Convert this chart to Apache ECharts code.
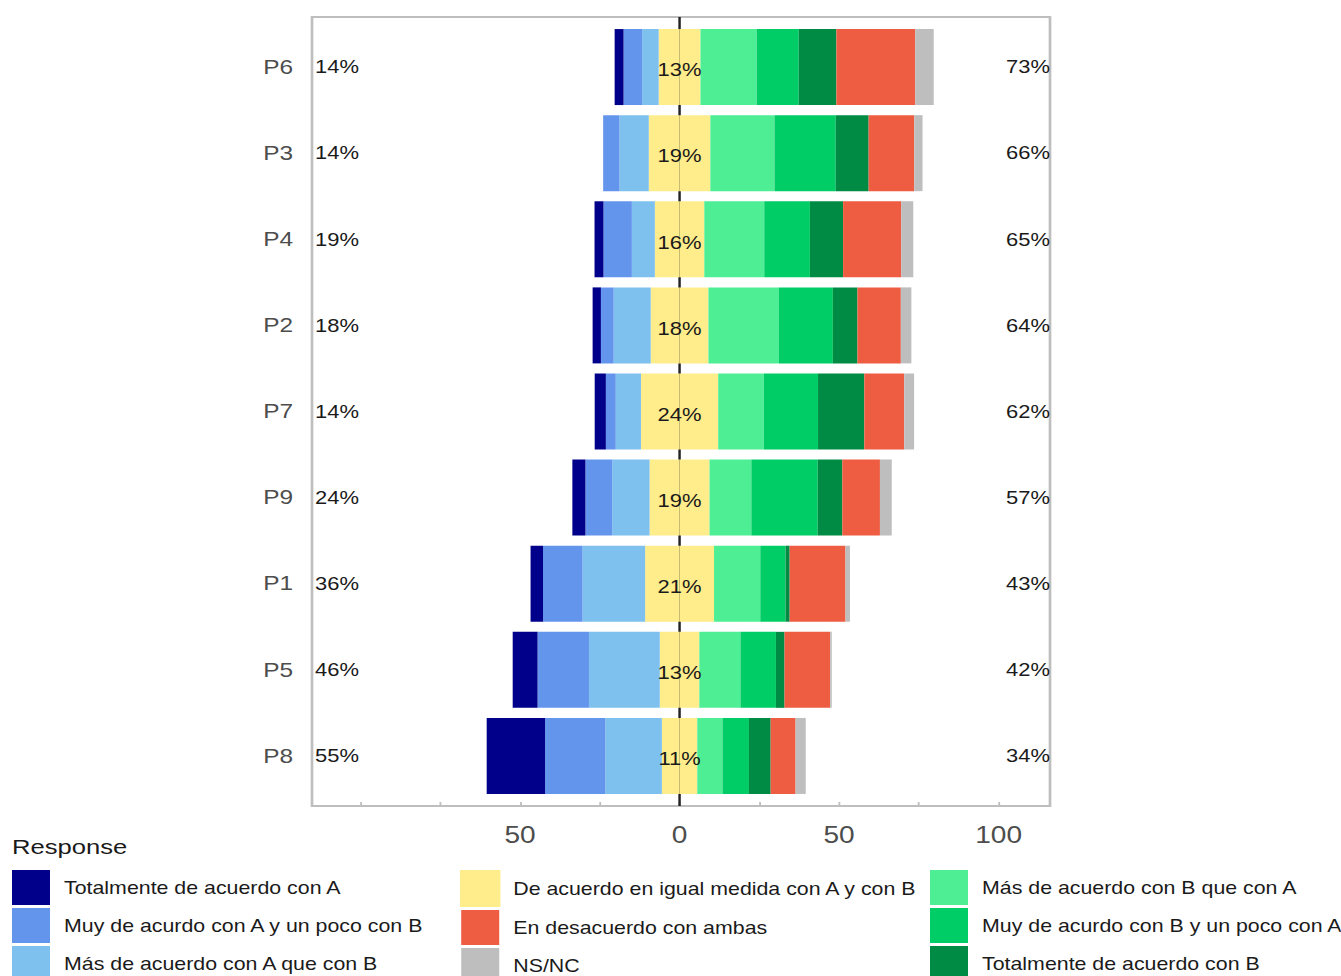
<!DOCTYPE html>
<html>
<head>
<meta charset="utf-8">
<script src="https://cdn.jsdelivr.net/npm/echarts@6/dist/echarts.min.js"></script>
<style>
html,body{margin:0;padding:0;background:#fff;overflow:hidden;width:1341px;height:976px;}
#chart{height:976px;transform-origin:0 0;}
</style>
</head>
<body>
<div id="chart"></div>
<script>
// ---- data (percent of respondents) ----
const categories = ['P6','P3','P4','P2','P7','P9','P1','P5','P8'];
const totA  = [2.8, 0.0, 2.8, 2.6, 3.5, 4.1, 3.9, 7.8, 18.3];
const muyA  = [5.8, 5.1, 8.9, 4.0, 3.1, 8.4, 12.4, 16.1, 18.9];
const masA  = [5.2, 9.2, 7.2, 11.6, 7.9, 11.7, 19.6, 22.2, 17.7];
const igual = [13.1, 19.3, 15.5, 18.1, 24.2, 18.8, 21.6, 12.4, 11.1];
const masB  = [17.6, 20.1, 18.8, 22.1, 14.3, 13.1, 14.5, 12.9, 7.9];
const muyB  = [13.2, 19.2, 14.3, 16.9, 17.0, 20.8, 7.9, 11.1, 8.3];
const totB  = [11.8, 10.3, 10.4, 7.7, 14.5, 7.7, 1.3, 2.7, 6.8];
const desac = [24.7, 14.3, 18.2, 13.6, 12.5, 11.8, 17.5, 14.3, 7.8];
const nsnc  = [5.8, 2.6, 3.8, 3.3, 3.1, 3.7, 1.4, 0.5, 3.2];
const leftPct   = ['14%','14%','19%','18%','14%','24%','36%','46%','55%'];
const centerPct = ['13%','19%','16%','18%','24%','19%','21%','13%','11%'];
const rightPct  = ['73%','66%','65%','64%','62%','57%','43%','42%','34%'];
const xLabelValues = [-50, 0, 50, 100];
const xTickValues = [-100, -75, -50, -25, 0, 25, 50, 75, 100];

const names = {
  totA: 'Totalmente de acuerdo con A',
  muyA: 'Muy de acurdo con A y un poco con B',
  masA: 'Más de acuerdo con A que con B',
  igual: 'De acuerdo en igual medida con A y con B',
  desac: 'En desacuerdo con ambas',
  nsnc: 'NS/NC',
  masB: 'Más de acuerdo con B que con A',
  muyB: 'Muy de acurdo con B y un poco con A',
  totB: 'Totalmente de acuerdo con B'
};
const colors = {
  totA: '#00008B', muyA: '#6495ED', masA: '#7EC0EE', igual: '#FFEC8B',
  masB: '#4EEE94', muyB: '#00CD66', totB: '#008B45', desac: '#EE5C42', nsnc: '#BEBEBE'
};

// The reference picture is horizontally stretched; render narrower and stretch the page.
const S = 1.22;
const W = 1341 / S;
const X = px => px / S;
const el = document.getElementById('chart');
el.style.width = W + 'px';
el.style.transform = 'scaleX(' + S + ')';

const FONT = 'Liberation Sans, Arial, sans-serif';

function barSeries(key, values, sign, extra) {
  return Object.assign({
    type: 'bar', name: names[key], stack: 'likert', barWidth: 76, z: 10,
    itemStyle: { color: colors[key] },
    data: values.map(v => sign * v),
    emphasis: { disabled: true }
  }, extra || {});
}

// both yellow halves get a same-colour outline so no seam shows at zero
const yellowStyle = { color: colors.igual, borderColor: colors.igual, borderWidth: 3 };

const series = [
  // zero reference line (drawn beneath the bars, visible in the gaps)
  { type: 'custom', name: '_zero', z: 1, silent: true, clip: false,
    data: [[0, 0]],
    renderItem: (params, api) => {
      const cs = params.coordSys;
      const x = api.coord([0, 0])[0];
      return { type: 'line',
        shape: { x1: x, y1: cs.y - 7, x2: x, y2: cs.y + cs.height + 7 },
        style: { stroke: '#222', lineWidth: 2 } };
    } },
  barSeries('igual', igual.map(v => v / 2), -1, { itemStyle: yellowStyle }),
  barSeries('igual', igual.map(v => v / 2), 1, {
    itemStyle: yellowStyle,
    label: { show: true, position: [0, '50%'], align: 'center', verticalAlign: 'middle',
      offset: [0, 3], fontSize: 18, color: '#1a1a1a', fontFamily: FONT,
      formatter: p => centerPct[p.dataIndex] }
  }),
  barSeries('masA', masA, -1),
  barSeries('muyA', muyA, -1),
  barSeries('totA', totA, -1),
  barSeries('masB', masB, 1),
  barSeries('muyB', muyB, 1),
  barSeries('totB', totB, 1),
  barSeries('desac', desac, 1),
  barSeries('nsnc', nsnc, 1)
];

const legendCommon = {
  orient: 'vertical', top: 870, height: 140, padding: 0,
  itemWidth: X(38), itemHeight: 35, itemGap: 3, icon: 'rect',
  selectedMode: false,
  textStyle: { fontSize: 17.5, color: '#1a1a1a', fontFamily: FONT, padding: [0, 0, 0, 6.5] }
};

const option = {
  animation: false,
  backgroundColor: '#fff',
  title: { text: 'Response', left: X(12), top: 836, padding: 0,
    textStyle: { fontSize: 21, fontWeight: 'normal', color: '#1a1a1a', fontFamily: FONT } },
  legend: [
    Object.assign({ left: X(12), data: [names.totA, names.muyA, names.masA] }, legendCommon),
    Object.assign({ left: X(460), data: [names.igual, names.desac, names.nsnc] }, legendCommon),
    Object.assign({ left: X(930), data: [names.masB, names.muyB, names.totB] }, legendCommon)
  ],
  graphic: [{
    type: 'rect', z: 0, silent: true,
    shape: { x: X(312), y: 17, width: X(738), height: 789 },
    style: { fill: 'none', stroke: '#BEBEBE', lineWidth: 2.2 }
  }],
  grid: { left: X(312), width: X(738), top: 24, height: 775 },
  xAxis: {
    type: 'value', min: -115.2, max: 116.1, offset: 7,
    axisLine: { show: false },
    axisTick: { show: true, inside: true, length: 4, customValues: xTickValues,
      lineStyle: { color: '#BEBEBE', width: 1.5 } },
    axisLabel: { customValues: xLabelValues, formatter: v => String(Math.abs(v)),
      fontSize: 23, color: '#4D4D4D', margin: 17, fontFamily: FONT },
    splitLine: { show: false }
  },
  yAxis: [
    { type: 'category', data: categories, inverse: true,
      axisLine: { show: false }, axisTick: { show: false },
      axisLabel: { fontSize: 20, color: '#4D4D4D', margin: X(19), padding: [6, 0, 0, 0], fontFamily: FONT } },
    { type: 'category', data: categories, inverse: true, position: 'left',
      axisLine: { show: false }, axisTick: { show: false },
      axisLabel: { inside: true, margin: X(3), fontSize: 18, color: '#1a1a1a', fontFamily: FONT,
        padding: [7, 0, 0, 0], formatter: (v, i) => leftPct[i] } },
    { type: 'category', data: categories, inverse: true, position: 'right',
      axisLine: { show: false }, axisTick: { show: false },
      axisLabel: { inside: true, margin: 0, fontSize: 18, color: '#1a1a1a', fontFamily: FONT,
        padding: [5, 0, 0, 0], formatter: (v, i) => rightPct[i] } }
  ],
  series: series
};

const chart = echarts.init(el, null, { renderer: 'svg' });
chart.setOption(option);
</script>
</body>
</html>
